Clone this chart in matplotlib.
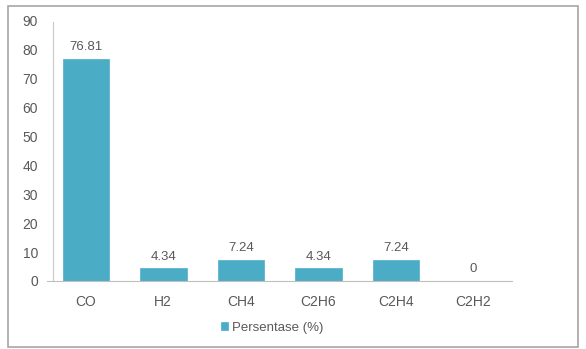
import matplotlib.pyplot as plt
from matplotlib.patches import Rectangle

categories = ["CO", "H2", "CH4", "C2H6", "C2H4", "C2H2"]
values = [76.81, 4.34, 7.24, 4.34, 7.24, 0]
value_labels = ["76.81", "4.34", "7.24", "4.34", "7.24", "0"]

plt.rcParams['font.family'] = ['Liberation Sans', 'DejaVu Sans']
text_color = "#595959"
bar_color = "#4bacc6"

fig = plt.figure(figsize=(5.86, 3.49), dpi=100)
fig.patches.append(Rectangle((8 / 586, 1 - 347 / 349), 570 / 586, 341 / 349,
                             transform=fig.transFigure, fill=False,
                             edgecolor="#a6a6a6", linewidth=1.2))

ax = fig.add_axes([47 / 586, 1 - 281 / 349, (512 - 47) / 586, (281 - 21) / 349])
x = range(len(categories))
ax.bar(x, values, width=0.6, color=bar_color, edgecolor="#5bb5cf", linewidth=0.6,
       label="Persentase (%)")
for i, v in enumerate(values):
    ax.text(i, v + 2.0, value_labels[i], ha="center", va="bottom",
            fontsize=9.5, color=text_color)

ax.set_xlim(-0.5, len(categories) - 0.5)
ax.set_ylim(0, 90)
ax.set_yticks(range(0, 91, 10))
ax.set_xticks(list(x))
ax.set_xticklabels(categories, fontsize=10)
ax.tick_params(axis="both", length=0, colors=text_color)
ax.tick_params(axis="y", pad=11)
ax.tick_params(axis="x", pad=10)
for lbl in ax.get_yticklabels():
    lbl.set_family("DejaVu Sans")
    lbl.set_fontsize(9)
for s in ["top", "right"]:
    ax.spines[s].set_visible(False)
ax.spines["left"].set_color("#c8c8c8")
ax.spines["bottom"].set_color("#bfbfbf")
ax.spines["left"].set_position(("data", -0.42))
ax.spines["left"].set_bounds(0, 89.5)

fig.legend(loc="center", bbox_to_anchor=(272 / 586, 1 - 328 / 349), frameon=False,
           fontsize=9.5, handlelength=0.55, handleheight=0.55, handletextpad=0.3,
           labelcolor=text_color)

fig.savefig("out.png", dpi=100)
